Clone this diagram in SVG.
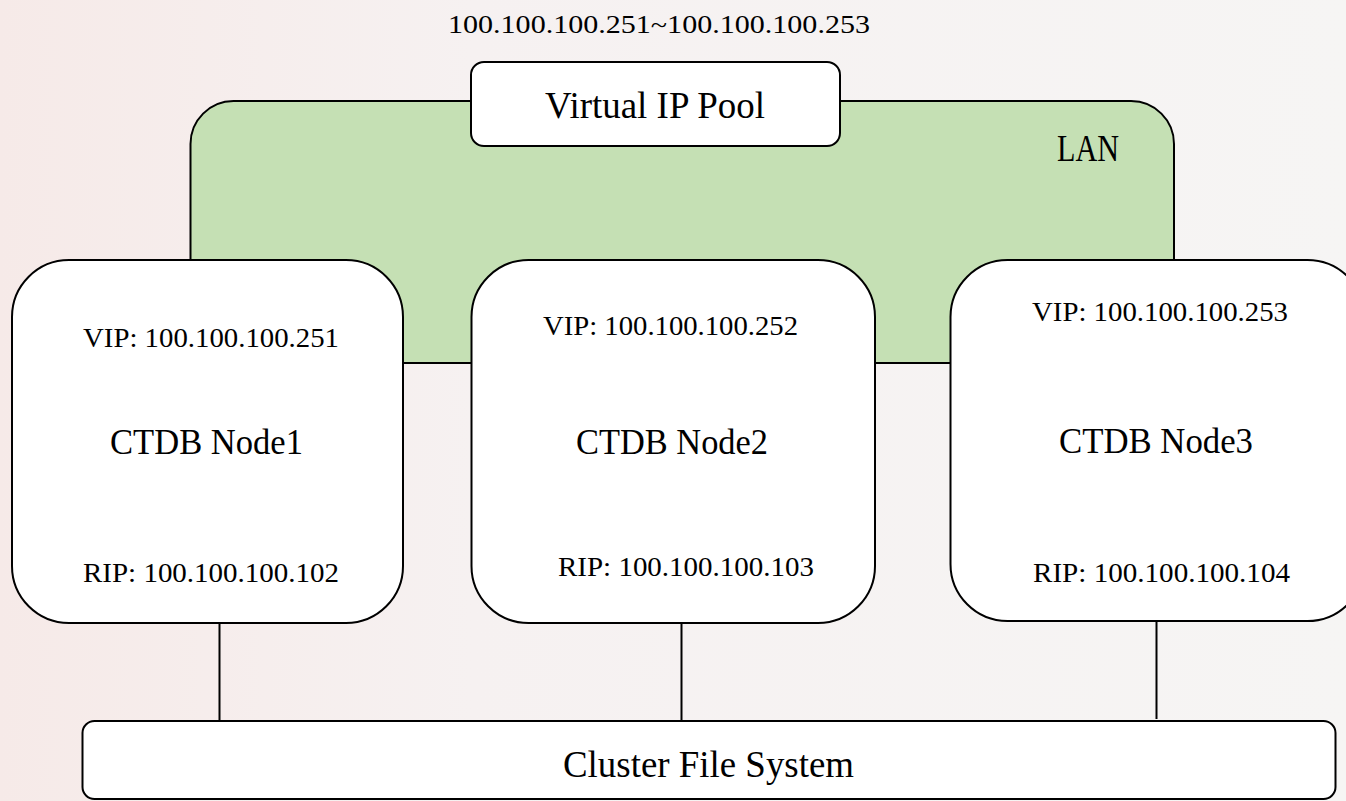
<svg xmlns="http://www.w3.org/2000/svg" width="1346" height="801" viewBox="0 0 1346 801">
  <defs>
    <linearGradient id="bg" x1="0" y1="0" x2="1" y2="0">
      <stop offset="0" stop-color="#f6eae8"/>
      <stop offset="0.35" stop-color="#f6f1f1"/>
      <stop offset="1" stop-color="#f6f5f4"/>
    </linearGradient>
    <style>
      .box { fill: #ffffff; stroke: #000000; stroke-width: 2; }
      .lan { fill: #c5e0b4; stroke: #000000; stroke-width: 2; }
      .conn { stroke: #000000; stroke-width: 2; fill: none; }
      text { font-family: "Liberation Serif", "DejaVu Serif", serif; fill: #000000; }
      .big { font-size: 38px; }
      .mid { font-size: 35px; }
      .ip { font-size: 28px; }
      .top { font-size: 26px; }
    </style>
  </defs>

  <rect x="0" y="0" width="1346" height="801" fill="url(#bg)"/>

  <g id="lan">
    <rect class="lan" x="190.5" y="101" width="983.5" height="262" rx="43" ry="43"/>
    <text class="big" x="1057" y="161" textLength="62" lengthAdjust="spacingAndGlyphs">LAN</text>
  </g>

  <g id="pool-range">
    <text class="top" x="448" y="33" textLength="422" lengthAdjust="spacingAndGlyphs">100.100.100.251~100.100.100.253</text>
  </g>

  <g id="virtual-ip-pool">
    <rect class="box" x="471" y="62" width="369" height="84" rx="13" ry="13"/>
    <text class="big" x="545" y="118" textLength="220" lengthAdjust="spacingAndGlyphs">Virtual IP Pool</text>
  </g>

  <g id="connectors">
    <line class="conn" x1="219.5" y1="623" x2="219.5" y2="721"/>
    <line class="conn" x1="681.5" y1="623" x2="681.5" y2="721"/>
    <line class="conn" x1="1156.5" y1="621" x2="1156.5" y2="719"/>
  </g>

  <g id="node1">
    <rect class="box" x="12" y="260" width="391" height="363" rx="57" ry="57"/>
    <text class="ip" x="83" y="347" textLength="256" lengthAdjust="spacingAndGlyphs">VIP: 100.100.100.251</text>
    <text class="mid" x="110" y="454" textLength="193" lengthAdjust="spacingAndGlyphs">CTDB Node1</text>
    <text class="ip" x="83" y="582" textLength="256" lengthAdjust="spacingAndGlyphs">RIP: 100.100.100.102</text>
  </g>

  <g id="node2">
    <rect class="box" x="471.5" y="260" width="403.5" height="363" rx="57" ry="57"/>
    <text class="ip" x="543" y="335" textLength="255" lengthAdjust="spacingAndGlyphs">VIP: 100.100.100.252</text>
    <text class="mid" x="576" y="454" textLength="192" lengthAdjust="spacingAndGlyphs">CTDB Node2</text>
    <text class="ip" x="558" y="576" textLength="256" lengthAdjust="spacingAndGlyphs">RIP: 100.100.100.103</text>
  </g>

  <g id="node3">
    <rect class="box" x="950.5" y="260" width="414" height="361" rx="57" ry="57"/>
    <text class="ip" x="1032" y="321" textLength="256" lengthAdjust="spacingAndGlyphs">VIP: 100.100.100.253</text>
    <text class="mid" x="1059" y="453" textLength="194" lengthAdjust="spacingAndGlyphs">CTDB Node3</text>
    <text class="ip" x="1033" y="582" textLength="257" lengthAdjust="spacingAndGlyphs">RIP: 100.100.100.104</text>
  </g>

  <g id="cluster-file-system">
    <rect class="box" x="82.5" y="721" width="1253" height="78" rx="12" ry="12"/>
    <text class="big" x="563" y="777" textLength="291" lengthAdjust="spacingAndGlyphs">Cluster File System</text>
  </g>
</svg>
